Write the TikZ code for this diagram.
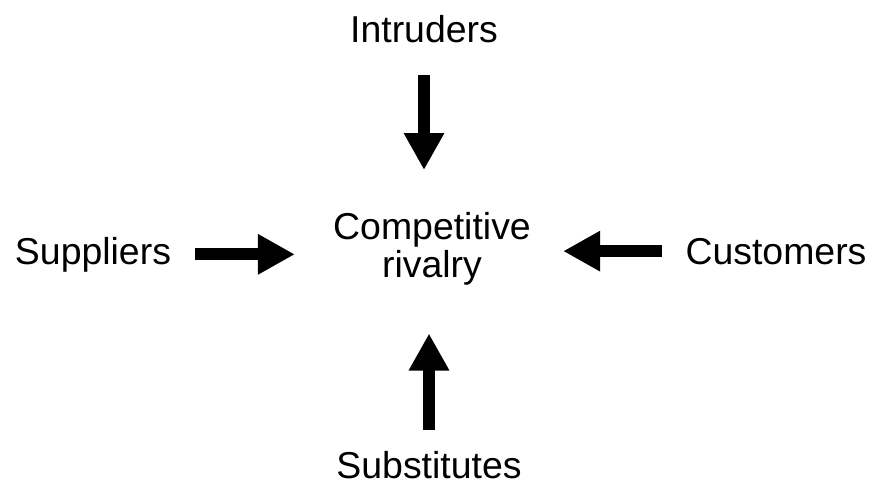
\documentclass[tikz,border=0pt]{standalone}
\usepackage{fontspec}
\setmainfont{Liberation Sans}
\usepackage{tikz}
\usetikzlibrary{arrows.meta}

\tikzset{
    lbl/.style={inner sep=0pt, font=\fontsize{21.3pt}{21.3pt}\selectfont},
    force/.style={line width=0.24cm, -{Triangle[width=0.76cm,length=0.74cm]}}
}

\begin{document}
\begin{tikzpicture}[x=0.02cm, y=-0.02cm]
    			\useasboundingbox (0,0) rectangle (874,488);
    			
    			\node[lbl, align=center] (comp) at (432,249) {Competitive\\rivalry};
    			\foreach \name/\x/\y/\label in {
    				intr/424/42/Intruders,
    				supp/93/264/Suppliers,
    				cust/776/264/Customers,
    				subs/429/478/Substitutes
    			}{
    				\node[lbl, anchor=base] (\name) at (\x,\y) {\label};
    			}
    			
    			\draw[force, shorten <=0.64cm, shorten >=0.85cm] (intr.south) -- (intr.south |- comp.north);
    			\draw[force, shorten <=0.48cm, shorten >=0.76cm] (supp.east) -- (supp.east -| comp.west);
    			\draw[force, shorten <=0.46cm, shorten >=0.64cm] (cust.west) -- (cust.west -| comp.east);
    			\draw[force, shorten <=0.41cm, shorten >=0.96cm] (subs.north) -- (subs.north |- comp.south);
    		\end{tikzpicture}
\end{document}
